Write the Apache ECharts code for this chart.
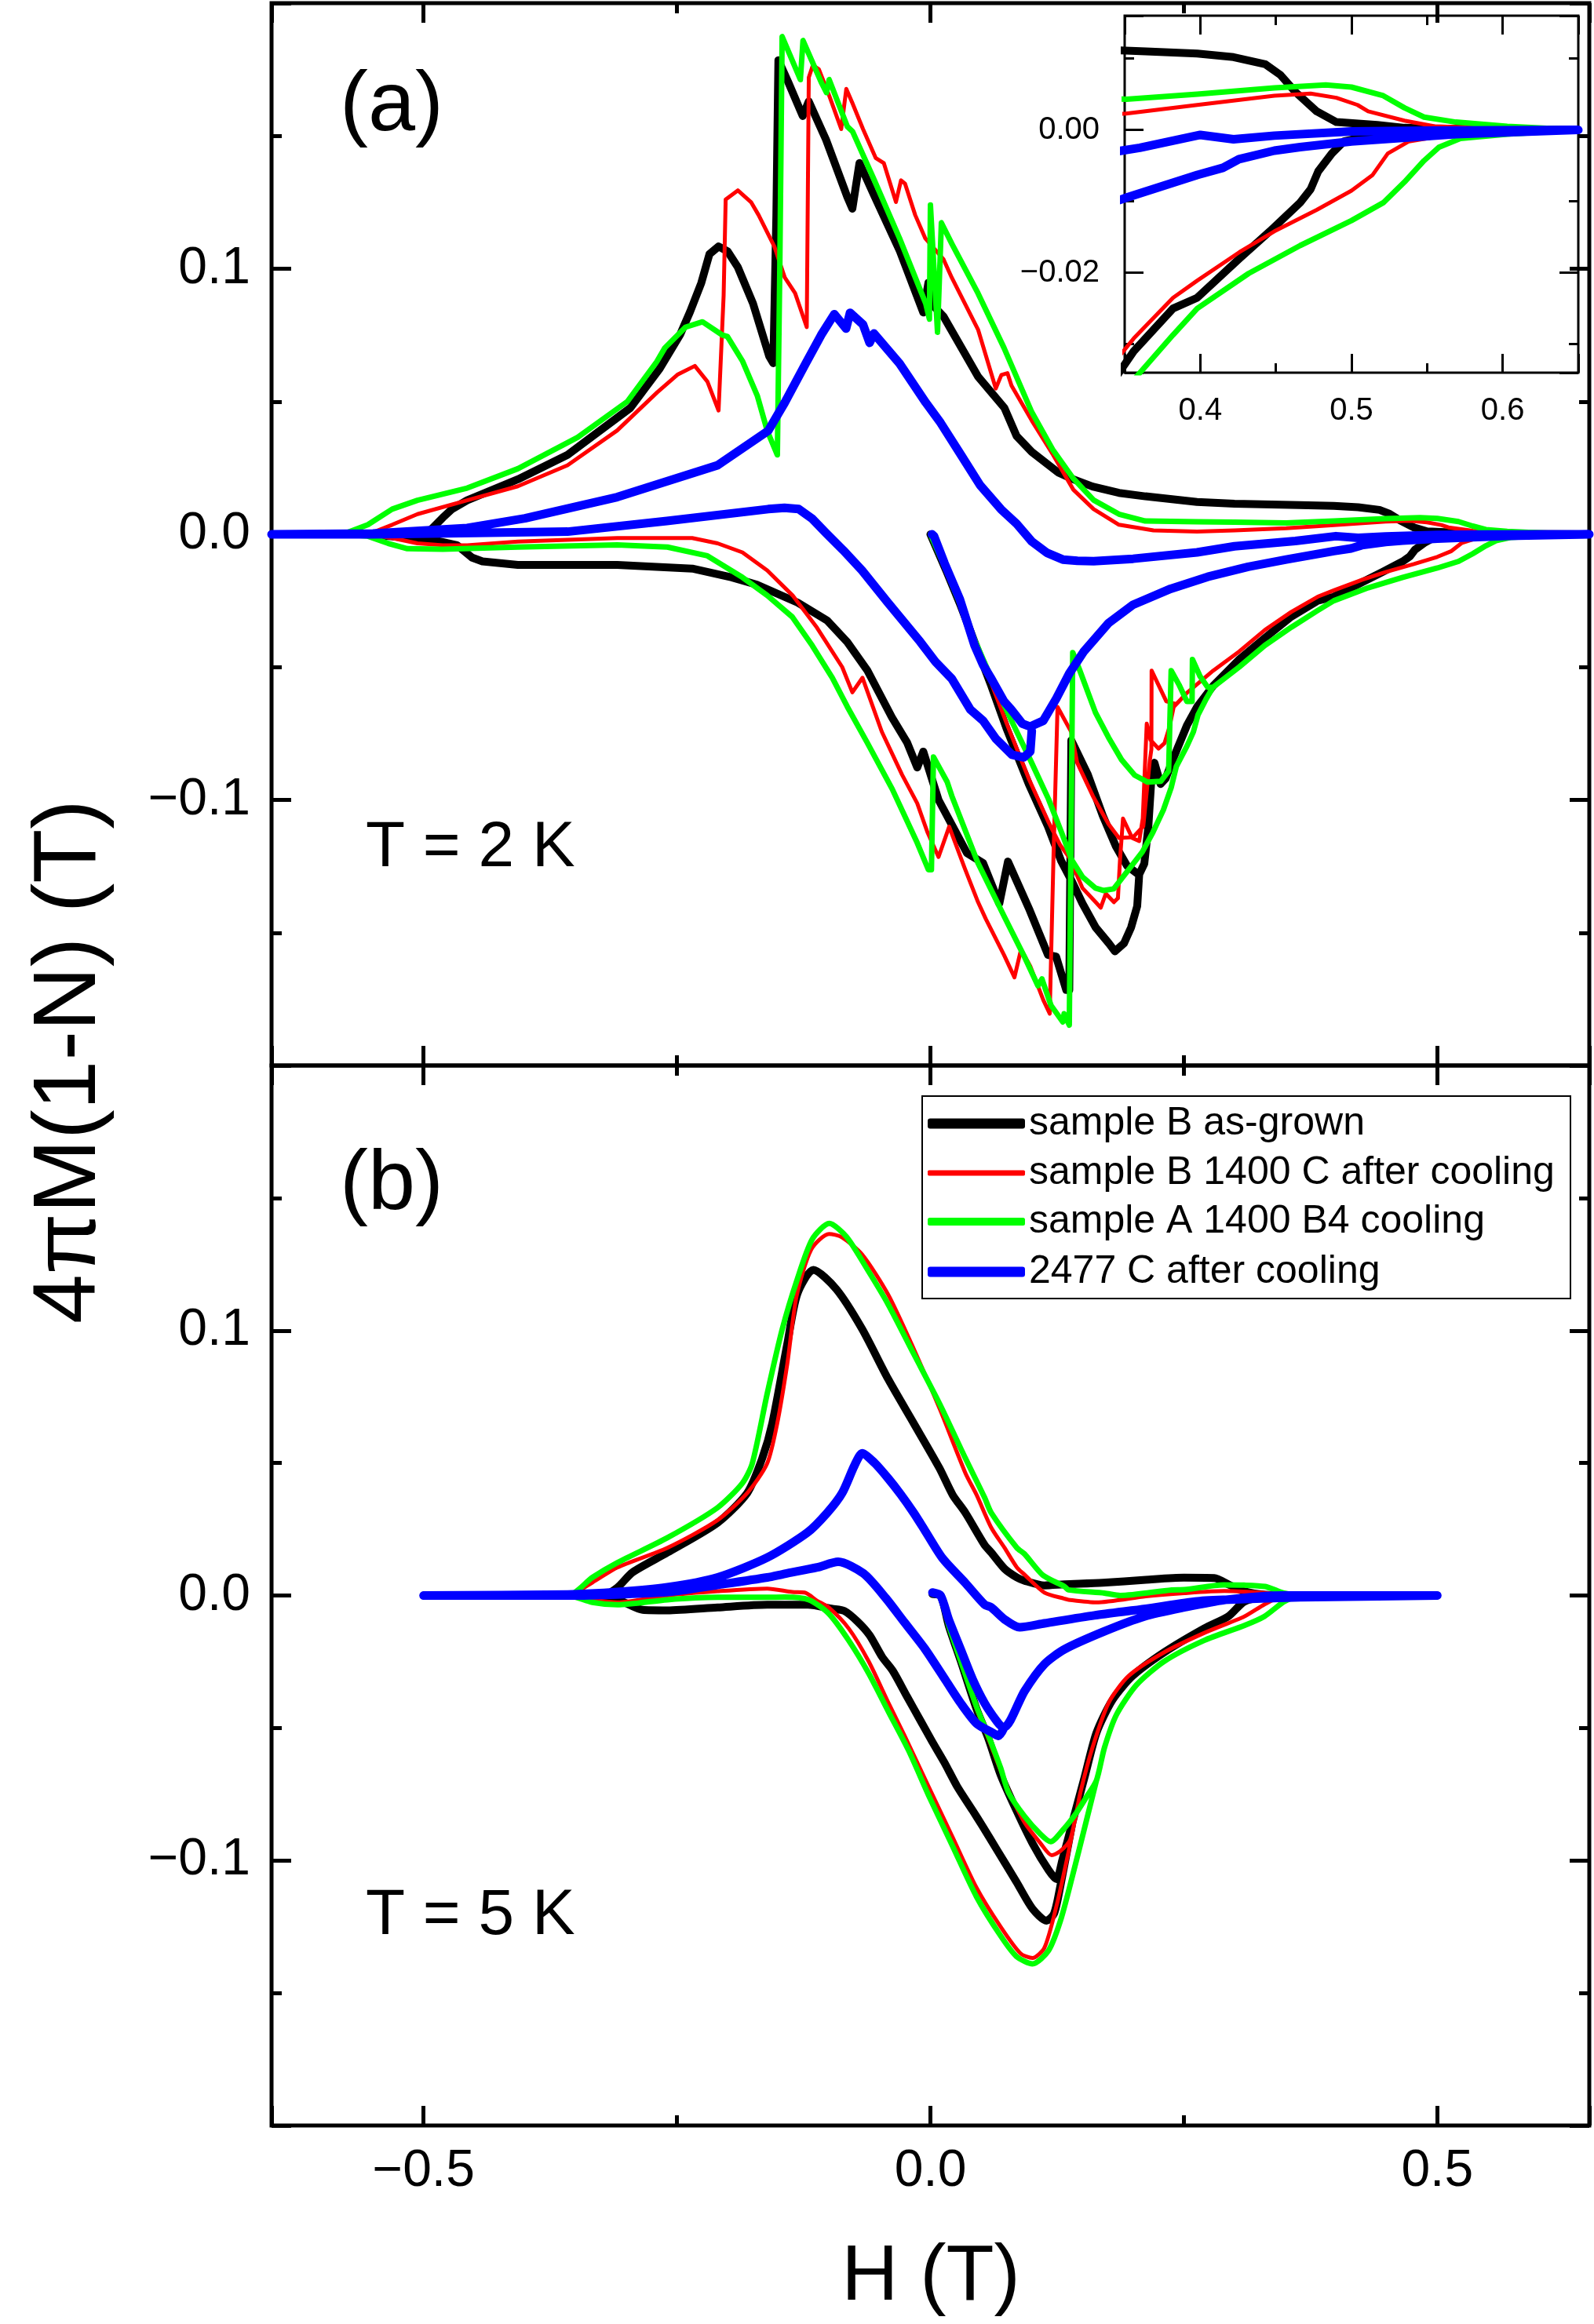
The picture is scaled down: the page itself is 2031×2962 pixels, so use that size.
<!DOCTYPE html>
<html><head><meta charset="utf-8">
<script src="https://cdn.jsdelivr.net/npm/echarts@6/dist/echarts.min.js"></script>
<style>html,body{margin:0;padding:0;background:#fff}#c{width:2031px;height:2962px}</style>
</head><body><div id="c"></div>
<script>
// ---------------- data ----------------
const seriesNames = ['sample B as-grown', 'sample B 1400 C after cooling', 'sample A 1400 B4 cooling', '2477 C after cooling'];
const mainXTicks = [-0.5, 0, 0.5];
const mainYTicks = [-0.1, 0, 0.1];
const insetXTicks = [0.4, 0.5, 0.6];
const insetYTicks = [-0.02, 0];

// panel (a), T = 2 K : [H (T), 4piM(1-N) (T)]
const aBlack = [
 [0.000,0.000],[0.008,-0.007],[0.016,-0.014],[0.030,-0.027],[0.045,-0.042],[0.060,-0.057],[0.075,-0.073],[0.097,-0.094],[0.116,-0.110],[0.129,-0.123],[0.140,-0.131],[0.150,-0.139],[0.163,-0.148],[0.176,-0.154],[0.182,-0.157],[0.191,-0.154],[0.198,-0.148],[0.204,-0.140],[0.206,-0.128],[0.211,-0.124],[0.215,-0.110],[0.218,-0.092],[0.221,-0.086],[0.227,-0.094],[0.232,-0.092],[0.240,-0.084],[0.253,-0.072],[0.263,-0.065],[0.279,-0.057],[0.305,-0.047],[0.330,-0.039],[0.356,-0.031],[0.382,-0.025],[0.398,-0.0235],[0.426,-0.018],[0.446,-0.0142],[0.466,-0.0102],[0.473,-0.0083],[0.478,-0.0058],[0.487,-0.0033],[0.495,-0.0016],[0.517,-0.0006],[0.552,-0.0003],[0.600,-0.0001],[0.650,0.000],
 [0.550,0.0002],[0.535,0.0003],[0.517,0.0007],[0.490,0.0011],[0.477,0.0026],[0.463,0.0053],[0.453,0.0077],[0.443,0.0092],[0.422,0.0102],[0.398,0.0107],[0.364,0.0110],[0.300,0.0115],[0.263,0.0122],[0.212,0.0143],[0.186,0.0156],[0.160,0.0180],[0.141,0.0207],[0.126,0.0233],[0.100,0.0310],[0.085,0.0370],[0.073,0.0476],[0.047,0.0594],[0.013,0.0820],[0.003,0.0860],[-0.002,0.0947],[-0.007,0.0835],[-0.030,0.1065],[-0.056,0.1280],[-0.070,0.1398],[-0.074,0.1300],[-0.077,0.1226],[-0.082,0.1270],[-0.103,0.1486],[-0.120,0.1630],[-0.126,0.1575],[-0.140,0.1700],[-0.150,0.1785],[-0.152,0.1200],[-0.155,0.0644],[-0.159,0.0670],[-0.175,0.0869],[-0.190,0.1006],[-0.200,0.1065],[-0.209,0.1084],[-0.218,0.1055],[-0.226,0.0947],[-0.237,0.0839],[-0.247,0.0751],[-0.267,0.0624],[-0.296,0.0476],[-0.358,0.0299],[-0.407,0.0207],[-0.457,0.0128],[-0.472,0.0095],[-0.481,0.0063],[-0.496,0.0005],[-0.550,0.0000],[-0.650,0.0000],
 [-0.555,0.0000],[-0.491,-0.0021],[-0.467,-0.0041],[-0.452,-0.0088],[-0.442,-0.0102],[-0.407,-0.0115],[-0.309,-0.0115],[-0.235,-0.0129],[-0.196,-0.0162],[-0.171,-0.0190],[-0.131,-0.0257],[-0.102,-0.0324],[-0.082,-0.0406],[-0.062,-0.0514],[-0.038,-0.0689],[-0.023,-0.0784],[-0.013,-0.0878],[-0.007,-0.0818],[0.008,-0.1000],[0.036,-0.1200],[0.052,-0.1238],[0.068,-0.1390],[0.0765,-0.1232],[0.098,-0.1416],[0.116,-0.1584],[0.124,-0.1590],[0.134,-0.1716],[0.137,-0.1716],[0.139,-0.0776],[0.155,-0.0902],[0.170,-0.1059],[0.183,-0.1175],[0.194,-0.1248],[0.205,-0.1280]
];
const aRed = [
 [0.000,0.000],[0.008,-0.007],[0.016,-0.014],[0.030,-0.027],[0.045,-0.042],[0.060,-0.056],[0.075,-0.071],[0.097,-0.092],[0.116,-0.108],[0.128,-0.117],[0.137,-0.1217],[0.150,-0.1332],[0.163,-0.1385],[0.168,-0.1406],[0.173,-0.1353],[0.181,-0.1385],[0.185,-0.1370],[0.187,-0.1227],[0.190,-0.1070],[0.199,-0.1143],[0.206,-0.1155],[0.2095,-0.1070],[0.2134,-0.0713],[0.217,-0.0774],[0.225,-0.0807],[0.231,-0.0786],[0.236,-0.0723],[0.240,-0.0650],[0.248,-0.0618],[0.253,-0.0597],[0.279,-0.0513],[0.305,-0.0440],[0.330,-0.0360],[0.356,-0.0292],[0.382,-0.0235],[0.398,-0.0211],[0.426,-0.0171],[0.449,-0.0142],[0.477,-0.0112],[0.500,-0.0085],[0.514,-0.0063],[0.524,-0.0033],[0.538,-0.0016],[0.555,-0.0010],[0.586,-0.0004],[0.650,0.000],
 [0.600,0.0002],[0.555,0.0005],[0.535,0.0013],[0.511,0.0026],[0.504,0.0035],[0.490,0.0045],[0.473,0.0051],[0.449,0.0048],[0.398,0.0035],[0.351,0.0023],[0.300,0.0015],[0.263,0.0010],[0.220,0.0015],[0.186,0.0036],[0.161,0.0095],[0.141,0.0168],[0.121,0.0299],[0.100,0.0428],[0.080,0.0560],[0.076,0.0607],[0.070,0.0600],[0.0645,0.0549],[0.047,0.0771],[0.021,0.0967],[0.013,0.1035],[-0.005,0.1114],[-0.015,0.1202],[-0.025,0.1320],[-0.029,0.1333],[-0.034,0.1251],[-0.046,0.1398],[-0.054,0.1417],[-0.0665,0.1526],[-0.077,0.1624],[-0.083,0.1677],[-0.088,0.1526],[-0.100,0.1653],[-0.110,0.1751],[-0.116,0.1766],[-0.120,0.1720],[-0.122,0.0780],[-0.1335,0.0908],[-0.1437,0.0967],[-0.154,0.1084],[-0.1695,0.1202],[-0.177,0.1251],[-0.190,0.1295],[-0.202,0.1261],[-0.204,0.0900],[-0.209,0.0466],[-0.220,0.0575],[-0.2324,0.0634],[-0.2496,0.0601],[-0.2694,0.0535],[-0.309,0.0391],[-0.358,0.0260],[-0.407,0.0181],[-0.457,0.0128],[-0.506,0.0076],[-0.531,0.0036],[-0.555,0.0000],[-0.650,0.0000],
 [-0.555,0.0000],[-0.531,-0.0014],[-0.506,-0.0034],[-0.481,-0.0041],[-0.457,-0.0041],[-0.407,-0.0027],[-0.309,-0.0014],[-0.235,-0.0014],[-0.210,-0.0034],[-0.1855,-0.0068],[-0.161,-0.0136],[-0.136,-0.0230],[-0.112,-0.0351],[-0.087,-0.0500],[-0.077,-0.0595],[-0.067,-0.0540],[-0.048,-0.0743],[-0.028,-0.0905],[-0.013,-0.1013],[-0.003,-0.1121],[0.008,-0.1215],[0.0185,-0.1101],[0.034,-0.1259],[0.047,-0.1385],[0.0546,-0.1448],[0.0726,-0.1584],[0.0829,-0.1668],[0.0894,-0.1563],[0.0985,-0.1626],[0.1113,-0.1753],[0.1177,-0.1805],[0.1215,-0.1200],[0.1254,-0.0650],[0.1389,-0.0744],[0.1448,-0.0860],[0.1602,-0.0985],[0.1757,-0.1091],[0.186,-0.1143],[0.200,-0.1140],[0.210,-0.1100],[0.2165,-0.0850],[0.218,-0.0809],[0.2182,-0.0513],[0.2327,-0.0629],[0.2427,-0.0639],[0.253,-0.0597]
];
const aGreen = [
 [0.000,0.000],[0.008,-0.007],[0.016,-0.014],[0.030,-0.027],[0.045,-0.041],[0.060,-0.054],[0.080,-0.0702],[0.0985,-0.0849],[0.1164,-0.0996],[0.1293,-0.1122],[0.1396,-0.1227],[0.150,-0.1290],[0.1628,-0.1332],[0.1705,-0.1341],[0.1808,-0.1335],[0.1963,-0.1259],[0.209,-0.1196],[0.2195,-0.1122],[0.2298,-0.1038],[0.2375,-0.0954],[0.2426,-0.0874],[0.253,-0.0798],[0.2594,-0.0744],[0.264,-0.0680],[0.272,-0.0620],[0.2787,-0.0576],[0.3045,-0.0500],[0.330,-0.0418],[0.356,-0.0350],[0.382,-0.0287],[0.398,-0.0250],[0.432,-0.0201],[0.466,-0.0162],[0.500,-0.0127],[0.521,-0.0102],[0.535,-0.0073],[0.548,-0.0043],[0.558,-0.0024],[0.572,-0.0012],[0.603,-0.0006],[0.650,0.000],
 [0.603,0.0005],[0.569,0.0011],[0.548,0.0018],[0.535,0.0031],[0.521,0.0048],[0.500,0.0060],[0.483,0.0063],[0.449,0.0059],[0.398,0.0050],[0.351,0.0043],[0.300,0.0046],[0.263,0.0047],[0.212,0.0050],[0.186,0.0076],[0.161,0.0129],[0.141,0.0210],[0.1205,0.0320],[0.100,0.0460],[0.0726,0.0702],[0.0469,0.0908],[0.0211,0.1094],[0.0108,0.1173],[0.007,0.0761],[0.000,0.1240],[-0.001,0.0810],[-0.0046,0.0869],[-0.0304,0.1114],[-0.056,0.1339],[-0.0767,0.1516],[-0.0819,0.1535],[-0.0999,0.1712],[-0.1025,0.1663],[-0.1077,0.1702],[-0.1257,0.1859],[-0.1283,0.1712],[-0.1463,0.1874],[-0.1486,0.1000],[-0.1510,0.0299],[-0.161,0.0390],[-0.1708,0.0522],[-0.1855,0.0653],[-0.2003,0.0745],[-0.2056,0.0751],[-0.2249,0.0800],[-0.2416,0.0780],[-0.262,0.0702],[-0.270,0.0650],[-0.299,0.0500],[-0.348,0.0365],[-0.407,0.0247],[-0.457,0.0174],[-0.506,0.0128],[-0.531,0.0095],[-0.555,0.0036],[-0.580,0.0000],[-0.650,0.0000],
 [-0.580,0.0000],[-0.555,-0.0007],[-0.535,-0.0034],[-0.516,-0.0054],[-0.481,-0.0056],[-0.407,-0.0048],[-0.309,-0.0040],[-0.2595,-0.0048],[-0.220,-0.0081],[-0.1855,-0.0162],[-0.161,-0.0230],[-0.1363,-0.0311],[-0.1166,-0.0419],[-0.0968,-0.0540],[-0.082,-0.0649],[-0.0624,-0.0784],[-0.0377,-0.0959],[-0.013,-0.1162],[-0.002,-0.1263],[0.001,-0.1263],[0.003,-0.0838],[0.0165,-0.0932],[0.0211,-0.0985],[0.0469,-0.1238],[0.0726,-0.1437],[0.0933,-0.1595],[0.1061,-0.1700],[0.110,-0.1674],[0.119,-0.1774],[0.1306,-0.1836],[0.1319,-0.1805],[0.137,-0.1848],[0.1385,-0.1848],[0.1404,-0.0445],[0.1474,-0.0513],[0.1628,-0.0671],[0.1757,-0.0765],[0.1886,-0.0849],[0.2015,-0.0907],[0.2143,-0.0933],[0.2272,-0.0930],[0.235,-0.0891],[0.2375,-0.0513],[0.2452,-0.0566],[0.253,-0.0629],[0.2581,-0.0629],[0.2585,-0.0471],[0.2659,-0.0534],[0.2736,-0.0576],[0.2787,-0.0576]
];
const aBlue = [
 [0.0015,0.000],[0.0036,-0.0007],[0.0138,-0.0108],[0.029,-0.0244],[0.0436,-0.0419],[0.052,-0.0492],[0.0595,-0.0540],[0.0726,-0.0629],[0.0798,-0.0660],[0.0907,-0.0713],[0.0985,-0.0724],[0.1113,-0.0702],[0.1242,-0.0618],[0.137,-0.0524],[0.151,-0.0443],[0.1757,-0.0334],[0.200,-0.0265],[0.237,-0.0205],[0.2735,-0.0160],[0.3135,-0.0122],[0.351,-0.0095],[0.398,-0.0063],[0.415,-0.0053],[0.4256,-0.0041],[0.449,-0.0029],[0.466,-0.0024],[0.500,-0.0016],[0.569,-0.0006],[0.650,0.000],
 [0.550,-0.0001],[0.500,-0.0002],[0.449,-0.0008],[0.422,-0.0013],[0.400,-0.0007],[0.360,-0.0025],[0.300,-0.0045],[0.263,-0.0068],[0.200,-0.0092],[0.161,-0.0101],[0.145,-0.0100],[0.1306,-0.0095],[0.115,-0.0070],[0.100,-0.0027],[0.085,0.0040],[0.0697,0.0094],[0.049,0.0185],[0.030,0.0300],[0.010,0.0420],[-0.0046,0.0496],[-0.0304,0.0643],[-0.0557,0.0756],[-0.060,0.0721],[-0.0665,0.0790],[-0.0793,0.0834],[-0.0832,0.0775],[-0.0948,0.0829],[-0.1077,0.0751],[-0.1231,0.0643],[-0.1437,0.0496],[-0.160,0.0390],[-0.210,0.0260],[-0.309,0.0140],[-0.400,0.0060],[-0.457,0.0024],[-0.550,0.0003],[-0.650,0.000],
 [-0.550,0.000],[-0.450,0.0005],[-0.358,0.0010],[-0.260,0.0050],[-0.160,0.0095],[-0.144,0.0100],[-0.130,0.0095],[-0.117,0.0060],[-0.103,0.0005],[-0.086,-0.0060],[-0.0675,-0.0136],[-0.042,-0.0257],[-0.010,-0.0405],[0.005,-0.0480],[0.0211,-0.0544],[0.0394,-0.0660],[0.052,-0.0702],[0.0646,-0.0770],[0.0804,-0.0830],[0.092,-0.0840],[0.0985,-0.0818],[0.1000,-0.0740]
];

// panel (b), T = 5 K
const bBlack = [
 [0.002,0.0005],[0.010,0.000],[0.018,-0.0113],[0.030,-0.0248],[0.0455,-0.0428],[0.0573,-0.0541],[0.0692,-0.0676],[0.0849,-0.0811],[0.1007,-0.0935],[0.1165,-0.1036],[0.1244,-0.1070],[0.130,-0.1000],[0.1401,-0.0856],[0.152,-0.0687],[0.1638,-0.0518],[0.1796,-0.0394],[0.1993,-0.0304],[0.2308,-0.0214],[0.2703,-0.0124],[0.2939,-0.0079],[0.3097,-0.0023],[0.3294,-0.0006],[0.370,0.000],[0.500,0.000],
 [0.370,0.000],[0.330,0.0003],[0.310,0.0015],[0.295,0.0040],[0.280,0.0066],[0.250,0.0067],[0.2125,0.0059],[0.170,0.0048],[0.132,0.0042],[0.1125,0.0038],[0.0928,0.0056],[0.0853,0.0068],[0.0731,0.0101],[0.060,0.0162],[0.0534,0.0191],[0.0345,0.0312],[0.0219,0.0380],[0.009,0.0480],[-0.0165,0.0650],[-0.0419,0.0818],[-0.0674,0.1006],[-0.0928,0.1156],[-0.1155,0.1229],[-0.1314,0.1137],[-0.1412,0.0950],[-0.156,0.0650],[-0.1659,0.0518],[-0.1807,0.0387],[-0.2102,0.0274],[-0.2595,0.0162],[-0.294,0.0087],[-0.3088,0.0030],[-0.3236,0.000],[-0.407,0.000],[-0.500,0.000],
 [-0.358,0.000],[-0.309,-0.0016],[-0.284,-0.0054],[-0.2595,-0.0056],[-0.210,-0.0045],[-0.161,-0.0035],[-0.121,-0.0035],[-0.0968,-0.0050],[-0.085,-0.0058],[-0.072,-0.0098],[-0.060,-0.0150],[-0.0476,-0.0232],[-0.037,-0.0285],[-0.023,-0.0382],[-0.0097,-0.0473],[0.0017,-0.0551],[0.0139,-0.0631],[0.0263,-0.0720],[0.0416,-0.0811],[0.051,-0.0868],[0.0652,-0.0957],[0.0849,-0.1081],[0.1007,-0.1182],[0.1145,-0.1227],[0.1220,-0.1200],[0.1280,-0.1100],[0.1401,-0.0856]
];
const bRed = [
 [0.002,0.0005],[0.010,0.000],[0.018,-0.0113],[0.030,-0.0248],[0.0455,-0.0428],[0.0573,-0.0541],[0.0692,-0.0660],[0.080,-0.0760],[0.0928,-0.0856],[0.1086,-0.0935],[0.1196,-0.0980],[0.128,-0.0965],[0.138,-0.0920],[0.148,-0.0743],[0.1599,-0.0574],[0.1757,-0.0406],[0.1954,-0.0304],[0.2308,-0.0214],[0.2703,-0.0141],[0.3097,-0.0079],[0.3294,-0.0034],[0.345,-0.0006],[0.370,0.000],[0.500,0.000],
 [0.370,0.000],[0.330,0.0010],[0.290,0.0017],[0.2505,0.0009],[0.2125,-0.0003],[0.1638,-0.0026],[0.1362,-0.0016],[0.1322,-0.0012],[0.1125,0.0011],[0.0928,0.0079],[0.0853,0.0106],[0.0731,0.0180],[0.060,0.0256],[0.0455,0.0380],[0.0345,0.0462],[0.009,0.0706],[-0.0165,0.0931],[-0.0419,0.1137],[-0.0674,0.1287],[-0.0877,0.1353],[-0.1000,0.1364],[-0.1175,0.1306],[-0.132,0.1130],[-0.1412,0.0874],[-0.1511,0.0650],[-0.161,0.0499],[-0.1807,0.0387],[-0.2102,0.0284],[-0.2595,0.0180],[-0.3088,0.0106],[-0.3335,0.0049],[-0.358,0.000],[-0.500,0.000],
 [-0.358,0.000],[-0.3335,-0.0016],[-0.3088,-0.0026],[-0.2595,0.000],[-0.210,0.0016],[-0.161,0.0026],[-0.1363,0.0013],[-0.124,0.0011],[-0.1117,-0.0020],[-0.1004,-0.0045],[-0.0807,-0.0124],[-0.061,-0.0248],[-0.0413,-0.0406],[-0.0255,-0.0529],[-0.0018,-0.0721],[0.0219,-0.0912],[0.0455,-0.1103],[0.0692,-0.1250],[0.0889,-0.1351],[0.1007,-0.1368],[0.1125,-0.1329],[0.1244,-0.1171],[0.1362,-0.0968],[0.148,-0.0743]
];
const bGreen = [
 [0.002,0.0005],[0.010,0.000],[0.018,-0.0113],[0.030,-0.0248],[0.0455,-0.0420],[0.0573,-0.0530],[0.0692,-0.0650],[0.077,-0.0743],[0.0928,-0.0833],[0.1086,-0.0901],[0.1185,-0.0929],[0.1322,-0.0878],[0.144,-0.0820],[0.154,-0.0760],[0.1638,-0.0698],[0.1717,-0.0574],[0.1835,-0.0450],[0.2032,-0.0338],[0.2308,-0.0248],[0.2703,-0.0169],[0.3097,-0.0113],[0.3294,-0.0079],[0.349,-0.0023],[0.361,-0.0006],[0.390,0.000],[0.500,0.000],
 [0.390,0.000],[0.365,0.000],[0.349,0.0009],[0.340,0.0021],[0.330,0.0034],[0.3097,0.0039],[0.289,0.0040],[0.2505,0.0022],[0.238,0.0021],[0.1872,0.000],[0.1717,0.0009],[0.1362,0.0021],[0.1322,0.0034],[0.1108,0.0077],[0.0928,0.0157],[0.0853,0.0180],[0.060,0.0312],[0.0534,0.0370],[0.0345,0.0518],[0.009,0.0724],[-0.0165,0.0912],[-0.0419,0.1100],[-0.0623,0.1231],[-0.0827,0.1353],[-0.0998,0.1404],[-0.1166,0.1344],[-0.1314,0.1193],[-0.1461,0.1006],[-0.161,0.0762],[-0.1757,0.0499],[-0.1855,0.0424],[-0.2102,0.0331],[-0.2595,0.0218],[-0.3088,0.0124],[-0.3335,0.0068],[-0.358,0.000],[-0.500,0.000],
 [-0.358,0.000],[-0.3335,-0.0026],[-0.3088,-0.0035],[-0.2595,-0.0016],[-0.210,-0.0007],[-0.161,-0.0007],[-0.1437,-0.0006],[-0.120,-0.0016],[-0.1004,-0.0068],[-0.0807,-0.0169],[-0.061,-0.0293],[-0.0413,-0.0439],[-0.0215,-0.0585],[-0.0018,-0.0754],[0.0219,-0.0946],[0.0455,-0.1137],[0.0692,-0.1284],[0.0849,-0.1362],[0.1007,-0.1390],[0.1165,-0.1340],[0.1283,-0.1227],[0.1401,-0.1059],[0.152,-0.0878],[0.1638,-0.0698]
];
const bBlue = [
 [0.002,0.0011],[0.010,0.000],[0.018,-0.0090],[0.0298,-0.0203],[0.0416,-0.0316],[0.0534,-0.0406],[0.0652,-0.0473],[0.0711,-0.0496],[0.0731,-0.0496],[0.0928,-0.0361],[0.1125,-0.0259],[0.1322,-0.0203],[0.1717,-0.0135],[0.2111,-0.0079],[0.2505,-0.0045],[0.290,-0.0017],[0.349,0.000],[0.500,0.000],
 [0.365,-0.0007],[0.300,-0.0015],[0.2635,-0.0022],[0.2125,-0.0050],[0.1617,-0.0075],[0.1125,-0.0105],[0.0880,-0.0120],[0.0731,-0.0090],[0.060,-0.0045],[0.0534,-0.0034],[0.0345,0.0047],[0.012,0.0140],[-0.0057,0.0247],[-0.0165,0.0312],[-0.0294,0.0382],[-0.0419,0.0443],[-0.0550,0.0500],[-0.0672,0.0537],[-0.075,0.0490],[-0.087,0.0387],[-0.1018,0.0312],[-0.1215,0.0237],[-0.161,0.0143],[-0.210,0.0068],[-0.2595,0.0031],[-0.3088,0.0013],[-0.358,0.0004],[-0.500,0.000],
 [-0.358,0.000],[-0.2595,0.0013],[-0.210,0.0040],[-0.161,0.0068],[-0.1437,0.0082],[-0.1117,0.0106],[-0.0910,0.0127],[-0.0660,0.0083],[-0.0440,-0.0010],[-0.0255,-0.0102],[-0.0057,-0.0200],[0.0150,-0.0320],[0.0298,-0.0406],[0.0458,-0.0484],[0.0613,-0.0518],[0.0672,-0.0530],[0.0731,-0.0496]
];

// ---------------- layout / style ----------------
const FONT = '"Liberation Sans", Arial, Helvetica, sans-serif';
const colors = ['#000000', '#ff0000', '#00ff00', '#0000ff'];
const widths = [10, 5, 7, 11];

function fmt(list, digits) {
  return function (v) {
    for (const t of list) if (Math.abs(v - t) < 1e-9) {
      const s = Math.abs(t).toFixed(digits);
      return (t < 0 ? '\u2212' : '') + s;
    }
    return '';
  };
}
function ticks(major, minor, w) {
  return {
    axisLine: { show: false, onZero: false },
    axisTick: { show: true, inside: true, length: major, lineStyle: { color: '#000', width: w } },
    minorTick: { show: true, splitNumber: 2, length: minor, lineStyle: { color: '#000', width: w } },
    splitLine: { show: false }, minorSplitLine: { show: false }
  };
}
function xAx(grid, pos, min, max, split, labels, digits, fs, margin, tk) {
  return Object.assign({
    type: 'value', gridIndex: grid, position: pos, min: min, max: max, splitNumber: split, scale: true,
    axisLabel: labels ? { show: true, formatter: fmt(labels, digits), fontSize: fs, fontFamily: FONT, color: '#000', margin: margin } : { show: false }
  }, tk);
}
function yAx(grid, pos, min, max, opt, labels, digits, fs, margin, tk) {
  return Object.assign({
    type: 'value', gridIndex: grid, position: pos, min: min, max: max, scale: true,
    axisLabel: labels ? { show: true, formatter: fmt(labels, digits), fontSize: fs, fontFamily: FONT, color: '#000', margin: margin } : { show: false }
  }, opt, tk);
}
const mainTk = ticks(25, 13, 5);
const insetTk = ticks(24, 12, 3);

const xAxis = [
  xAx(0, 'bottom', -0.65, 0.65, 3, null, 1, 66, 26, mainTk),
  xAx(0, 'top', -0.65, 0.65, 3, null, 1, 66, 26, mainTk),
  xAx(1, 'bottom', -0.65, 0.65, 3, mainXTicks, 1, 66, 26, mainTk),
  xAx(1, 'top', -0.65, 0.65, 3, null, 1, 66, 26, mainTk),
  xAx(2, 'bottom', 0.35, 0.65, 3, insetXTicks, 1, 40, 29, insetTk),
  xAx(2, 'top', 0.35, 0.65, 3, null, 1, 40, 29, insetTk)
];
const yAxis = [
  yAx(0, 'left', -0.2, 0.2, { interval: 0.1 }, mainYTicks, 1, 66, 27, mainTk),
  yAx(0, 'right', -0.2, 0.2, { interval: 0.1 }, null, 1, 66, 27, mainTk),
  yAx(1, 'left', -0.2, 0.2, { interval: 0.1 }, mainYTicks, 1, 66, 27, mainTk),
  yAx(1, 'right', -0.2, 0.2, { interval: 0.1 }, null, 1, 66, 27, mainTk),
  yAx(2, 'left', -0.034, 0.016, { splitNumber: 3 }, insetYTicks, 2, 40, 32, insetTk),
  yAx(2, 'right', -0.034, 0.016, { splitNumber: 3 }, null, 2, 40, 32, insetTk)
];

const panelA = [aBlack, aRed, aGreen, aBlue];
const panelB = [bBlack, bRed, bGreen, bBlue];
const series = [];
function addSeries(arrs, axisIdx, smooth) {
  arrs.forEach((d, i) => {
    series.push({
      type: 'line', name: seriesNames[i], data: d, xAxisIndex: axisIdx, yAxisIndex: axisIdx,
      showSymbol: false, symbol: 'none', smooth: smooth, clip: true, color: colors[i],
      lineStyle: { color: colors[i], width: widths[i], cap: 'round', join: 'round' },
      emphasis: { disabled: true }, silent: true, z: 2 + i * 0.1
    });
  });
}
addSeries(panelA, 0, false);
addSeries(panelB, 2, 0.25);
addSeries(panelA, 4, false);

const legendRowsY = [1432, 1495, 1557, 1621];
const legendIconH = [13, 7, 10, 13];
const legend = seriesNames.map((n, i) => ({
  data: [n], left: 1182, top: legendRowsY[i] - 25, orient: 'horizontal', padding: 0,
  itemWidth: 124, itemHeight: legendIconH[i], icon: 'roundRect', selectedMode: false,
  textStyle: { fontSize: 50, lineHeight: 50, fontFamily: FONT, color: '#000' }
}));

const txt = (t, x, y, fs, align, rot) => ({
  type: 'text', x: x, y: y, rotation: rot || 0, silent: true, z: 50,
  style: { text: t, fontSize: fs, fontFamily: FONT, fill: '#000', align: align || 'center', verticalAlign: 'middle' }
});

const option = {
  animation: false,
  backgroundColor: '#ffffff',
  grid: [
    { left: 346, top: 4, width: 1679, height: 1354, show: true, borderColor: '#000', borderWidth: 5, backgroundColor: 'rgba(0,0,0,0)' },
    { left: 346, top: 1358, width: 1679, height: 1351, show: true, borderColor: '#000', borderWidth: 5, backgroundColor: 'rgba(0,0,0,0)' },
    { left: 1433, top: 20, width: 578, height: 455, show: true, borderColor: '#000', borderWidth: 3, backgroundColor: '#ffffff' }
  ],
  xAxis: xAxis,
  yAxis: yAxis,
  legend: legend,
  series: series,
  graphic: [
    { type: 'rect', shape: { x: 1175, y: 1397, width: 826, height: 258 }, style: { fill: 'rgba(0,0,0,0)', stroke: '#000', lineWidth: 2 }, silent: true, z: 40 },
    txt('(a)', 499, 136, 108),
    txt('(b)', 499, 1511, 108),
    txt('T = 2 K', 466, 1081, 82, 'left'),
    txt('T = 5 K', 466, 2442, 82, 'left'),
    txt('H (T)', 1186, 2903, 100),
    txt('4\u03c0M(1-N) (T)', 90, 1353, 113, 'center', Math.PI / 2)
  ]
};

const chart = echarts.init(document.getElementById('c'), null, { renderer: 'canvas', width: 2031, height: 2962, devicePixelRatio: 1 });
chart.setOption(option);
</script>
</body></html>
